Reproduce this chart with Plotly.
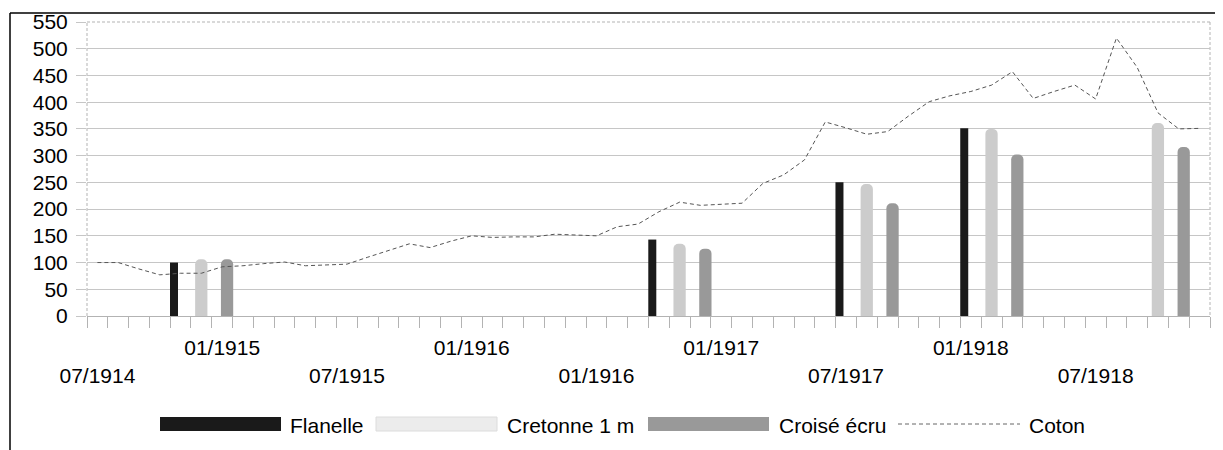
import plotly.graph_objects as go

# monthly categories, 07/1914 .. 12/1918
months = [f"{m:02d}/{y}" for y in range(1914, 1919) for m in range(1, 13)][6:]

# labels shown under the axis (01 on the upper row, 07 on the lower row)
tick_labels = {
    "07/1914": "<br>07/1914", "01/1915": "01/1915", "07/1915": "<br>07/1915",
    "01/1916": "01/1916", "07/1916": "<br>01/1916", "01/1917": "01/1917",
    "07/1917": "<br>07/1917", "01/1918": "01/1918", "07/1918": "<br>07/1918",
}

coton = [100, 100, 88, 77, 80, 80, 92, 94, 98, 101, 94, 95, 97, 110, 122, 135, 128, 140,
         150, 147, 148, 148, 153, 151, 150, 167, 172, 195, 213, 207, 209, 211, 248, 264,
         292, 363, 352, 340, 345, 374, 401, 412, 420, 432, 457, 407, 420, 432, 406, 520,
         465, 380, 350, 351]

bar_dates = ["12/1914", "11/1916", "08/1917", "02/1918", "10/1918"]
flanelle = [100, 143, 250, 351, None]
cretonne = [106, 135, 247, 350, 361]
croise = [106, 126, 211, 302, 316]

# page body adds an 8px margin, so work in window pixels and shift
OFF = 8
W, H = 1223, 450
L, R, T, B = 87, 1210, 22, 316


def px(x):
    return (x - L) / (R - L)


def py(y):
    return (B - y) / (B - T)


FONT = "Liberation Sans, Arial, sans-serif"
FS = 21
GRID = "#c6c6c6"
AXIS = "#b3b3b3"

fig = go.Figure()

fig.add_trace(go.Bar(
    x=bar_dates, y=flanelle, name="Flanelle",
    offset=-1.51, width=0.385,
    marker=dict(color="#1a1a1a", line=dict(width=0)),
    showlegend=False
))
fig.add_trace(go.Bar(
    x=bar_dates, y=cretonne, name="Cretonne 1 m",
    offset=-0.30, width=0.59,
    marker=dict(color="#cccccc", line=dict(width=0), cornerradius=5),
    showlegend=False
))
fig.add_trace(go.Bar(
    x=bar_dates, y=croise, name="Croisé écru",
    offset=0.94, width=0.59,
    marker=dict(color="#999999", line=dict(width=0), cornerradius=5),
    showlegend=False
))
fig.add_trace(go.Scatter(
    x=months, y=coton, name="Coton", mode="lines",
    line=dict(color="#555555", width=1, dash="4px,3px"),
    showlegend=False
))

shapes = []
# outer frame (top and left)
shapes.append(dict(type="line", xref="paper", yref="paper", x0=px(10), x1=px(W + 20),
                   y0=py(13), y1=py(13), line=dict(color="black", width=1.5)))
shapes.append(dict(type="line", xref="paper", yref="paper", x0=px(10), x1=px(10),
                   y0=py(13), y1=py(H + 20), line=dict(color="black", width=1.5)))
# dashed wall border (left, top, right)
for x0, y0, x1, y1 in [(0, 0, 0, 1), (0, 1, 1, 1), (1, 1, 1, 0)]:
    shapes.append(dict(type="line", xref="paper", yref="paper", x0=x0, y0=y0, x1=x1, y1=y1,
                       line=dict(color=AXIS, width=1, dash="3px,2px"), layer="below"))

# legend drawn by hand
legend_y = 424
items = [
    ("Flanelle", 160, 281, 288, dict(fillcolor="#1a1a1a", line=dict(width=0))),
    ("Cretonne 1 m", 376, 497, 505, dict(fillcolor="#ececec", line=dict(color="#dcdcdc", width=1))),
    ("Croisé écru", 648, 769, 777, dict(fillcolor="#999999", line=dict(width=0))),
]
annotations = []
for name, x0, x1, xt, style in items:
    shapes.append(dict(type="rect", xref="paper", yref="paper", x0=px(x0), x1=px(x1),
                       y0=py(legend_y + 7), y1=py(legend_y - 7), **style))
    annotations.append(dict(text=name, xref="paper", yref="paper", x=px(xt), y=py(legend_y + 1),
                            xanchor="left", yanchor="middle", showarrow=False,
                            font=dict(size=FS, color="black", family=FONT)))
shapes.append(dict(type="line", xref="paper", yref="paper", x0=px(898), x1=px(1020),
                   y0=py(legend_y), y1=py(legend_y),
                   line=dict(color="#666666", width=1, dash="4px,3px")))
annotations.append(dict(text="Coton", xref="paper", yref="paper", x=px(1027), y=py(legend_y + 1),
                        xanchor="left", yanchor="middle", showarrow=False,
                        font=dict(size=FS, color="black", family=FONT)))

fig.update_layout(
    width=W - OFF, height=H - OFF,
    margin=dict(l=L - OFF, r=W - R, t=T - OFF, b=H - B, pad=0),
    paper_bgcolor="white", plot_bgcolor="white",
    font=dict(family=FONT, size=FS, color="black"),
    barmode="overlay",
    showlegend=False,
    shapes=shapes,
    annotations=annotations,
    xaxis=dict(
        type="category", categoryorder="array", categoryarray=months,
        range=[-0.5, len(months) - 0.5],
        tickmode="array", tickvals=months,
        ticktext=[tick_labels.get(m, "") for m in months],
        tickson="boundaries", ticks="outside", ticklen=11, tickcolor=AXIS,
        tickangle=0, ticklabelstandoff=13,
        showline=True, linecolor=AXIS, linewidth=1,
        showgrid=False, zeroline=False, automargin=False,
    ),
    yaxis=dict(
        range=[0, 550], tickmode="linear", tick0=0, dtick=50,
        ticks="outside", ticklen=10, tickcolor=GRID,
        ticklabelstandoff=4,
        gridcolor=GRID, gridwidth=1,
        showline=False, zeroline=False, automargin=False,
    ),
)

fig.write_html("out.html")
